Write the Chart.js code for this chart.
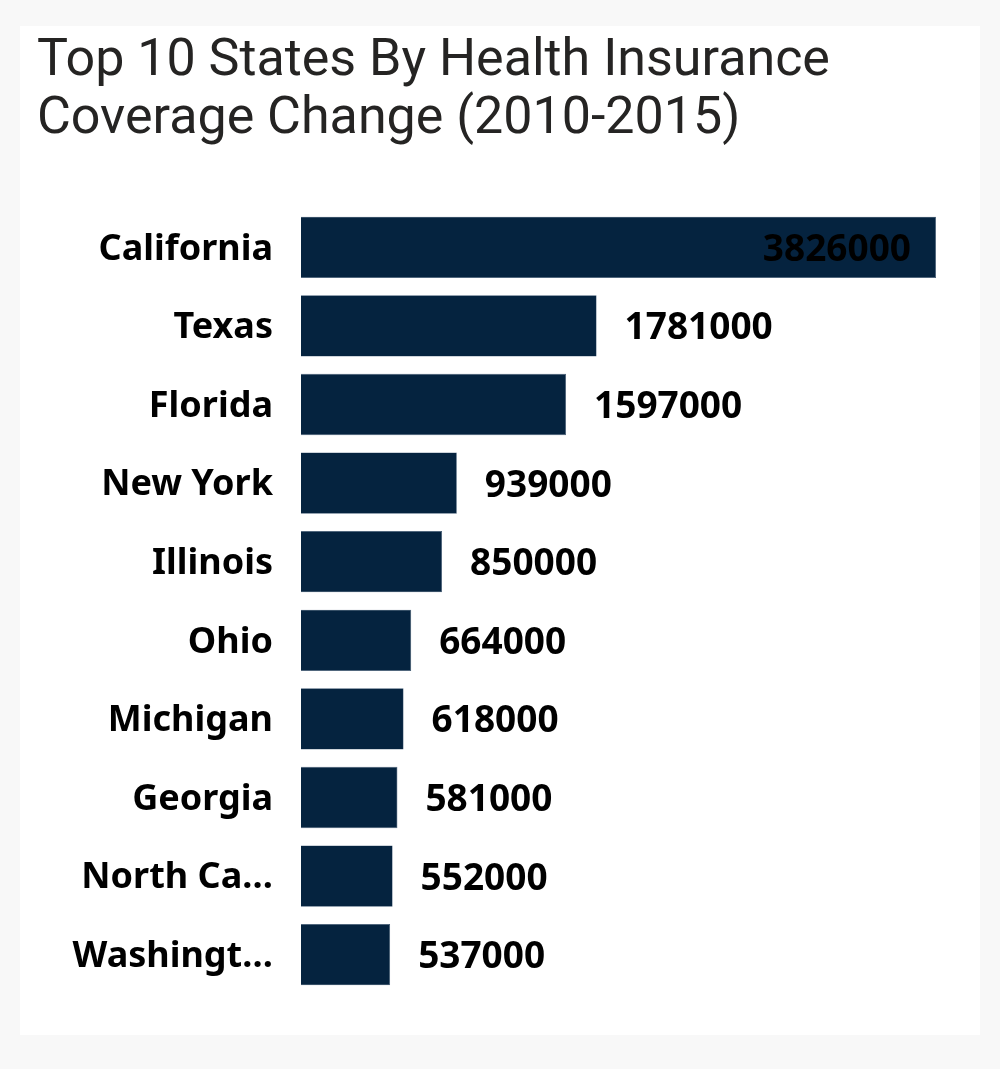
<!DOCTYPE html>
<html>
<head>
<meta charset="utf-8">
<script src="https://cdn.jsdelivr.net/npm/chart.js@4"></script>
<style>
  html, body { margin: 0; padding: 0; background: #f8f8f8; }
  #card { position: absolute; left: 20px; top: 26px; width: 960px; height: 1009px; background: #ffffff; }
  canvas { display: block; }
</style>
</head>
<body>
<div id="card"><canvas id="c" width="960" height="1009"></canvas></div>
<script>
const titleLines = ["Top 10 States By Health Insurance", "Coverage Change (2010-2015)"];
const states = ["California", "Texas", "Florida", "New York", "Illinois", "Ohio", "Michigan", "Georgia", "North Ca…", "Washingt…"];
const coverageChange = [3826000, 1781000, 1597000, 939000, 850000, 664000, 618000, 581000, 552000, 537000];

const titleIndent = {
  id: 'titleIndent',
  afterLayout(chart) {
    if (chart.titleBlock) { chart.titleBlock.left += 17; }
  }
};

const valueLabels = {
  id: 'valueLabels',
  afterDatasetsDraw(chart) {
    const ctx = chart.ctx;
    const meta = chart.getDatasetMeta(0);
    const ds = chart.data.datasets[0];
    ctx.save();
    ctx.font = 'bold 37px "Noto Sans"';
    ctx.fillStyle = '#000000';
    ctx.textBaseline = 'middle';
    meta.data.forEach((bar, i) => {
      const txt = String(ds.data[i]);
      const w = ctx.measureText(txt).width;
      const barW = bar.x - bar.base;
      if (barW - w - 25 > 300) {
        ctx.textAlign = 'right';
        ctx.fillText(txt, bar.x - 25, bar.y + 3);
      } else {
        ctx.textAlign = 'left';
        ctx.fillText(txt, bar.x + 28, bar.y + 3);
      }
    });
    ctx.restore();
  }
};

new Chart(document.getElementById('c'), {
  type: 'bar',
  data: {
    labels: states,
    datasets: [{
      data: coverageChange,
      backgroundColor: '#05233f',
      borderColor: '#3d5670',
      borderWidth: 0.6,
      barPercentage: 0.78,
      categoryPercentage: 1.0
    }]
  },
  options: {
    indexAxis: 'y',
    responsive: false,
    animation: false,
    layout: { padding: { left: 0, right: 44, top: 0, bottom: 41 } },
    plugins: {
      legend: { display: false },
      tooltip: { enabled: false },
      title: {
        display: true,
        text: titleLines,
        align: 'start',
        color: '#252423',
        font: { family: 'Roboto', size: 52, weight: 'normal', lineHeight: 58 / 52 },
        padding: { top: 7, bottom: 59 }
      }
    },
    scales: {
      x: {
        display: false,
        min: 0,
        max: 3826000
      },
      y: {
        grid: { display: false, drawTicks: false },
        border: { display: false },
        ticks: {
          color: '#000000',
          padding: 28,
          labelOffset: 2,
          font: { family: 'Noto Sans', size: 36, weight: 'bold' }
        },
        afterFit(scale) {
          scale.width = 281;
          scale.paddingTop = 0;
          scale.paddingBottom = 0;
        }
      }
    }
  },
  plugins: [titleIndent, valueLabels]
});
</script>
</body>
</html>
